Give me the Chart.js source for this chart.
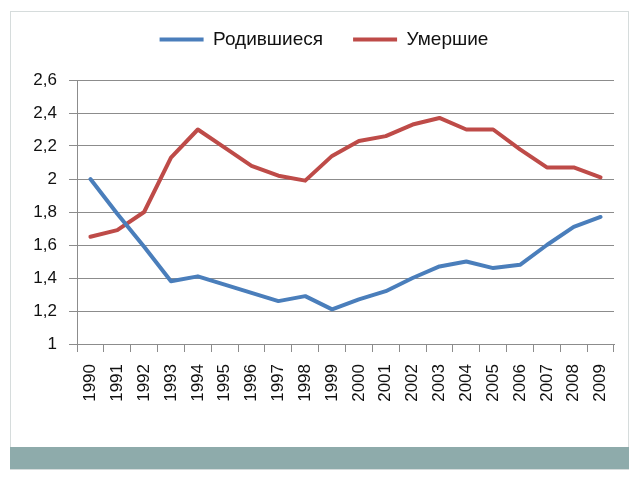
<!DOCTYPE html>
<html>
<head>
<meta charset="utf-8">
<script src="https://cdn.jsdelivr.net/npm/chart.js@4.4.1/dist/chart.umd.min.js"></script>
<style>
    html, body { margin: 0; padding: 0; background: #fff; }
    .Page { position: relative; width: 640px; height: 480px; overflow: hidden; }
    .Frame {
        position: absolute; left: 10px; top: 11px; width: 617px; height: 436px;
        border: 1px solid #d6dcdc; border-bottom: none;
    }
    .Band {
        position: absolute; left: 10px; top: 447px; width: 619px; height: 22px;
        background: #8eabab; border-bottom: 1px solid #d6dcdc;
    }
    .Chart--box { position: absolute; left: 0; top: 0; width: 640px; height: 480px; }
</style>
</head>
<body>
<div class="Page">
    <div class="Frame"></div>
    <div class="Band"></div>
    <div class="Chart--box"><canvas id="ChartRates"></canvas></div>
</div>
<script>
// Данные
var anos = ['1990', '1991', '1992', '1993', '1994', '1995', '1996', '1997', '1998', '1999',
            '2000', '2001', '2002', '2003', '2004', '2005', '2006', '2007', '2008', '2009'];
var rodivshiesya = [2.00, 1.79, 1.59, 1.38, 1.41, 1.36, 1.31, 1.26, 1.29, 1.21,
                    1.27, 1.32, 1.40, 1.47, 1.50, 1.46, 1.48, 1.60, 1.71, 1.77];
var umershie = [1.65, 1.69, 1.80, 2.13, 2.30, 2.19, 2.08, 2.02, 1.99, 2.14,
                2.23, 2.26, 2.33, 2.37, 2.30, 2.30, 2.18, 2.07, 2.07, 2.01];
var seriesNames = ['Родившиеся', 'Умершие'];

var fonte = 'Liberation Sans';

// more space under the legend, and push it a little to the right
const legendGap = {
    id: 'legendGap',
    beforeInit(chart) {
        const fit = chart.legend.fit;
        chart.legend.fit = function() {
            fit.bind(chart.legend)();
            this.height += 21;
        };
    },
    afterLayout(chart) {
        chart.legend.left += 17;
        chart.legend.right += 17;
    }
};

const data = {
labels: anos,
datasets: [{
    label: seriesNames[0],
    data: rodivshiesya,
    borderColor: '#4a7ebb',
    backgroundColor: '#4a7ebb',
    borderWidth: 4,
    pointRadius: 0,
    tension: 0,
    borderJoinStyle: 'round',
    borderCapStyle: 'round'
},
{
    label: seriesNames[1],
    data: umershie,
    borderColor: '#be4b48',
    backgroundColor: '#be4b48',
    borderWidth: 4,
    pointRadius: 0,
    tension: 0,
    borderJoinStyle: 'round',
    borderCapStyle: 'round'
}]};

const config = {
type: 'line',
data: data,
plugins: [legendGap],
options: {
    animation: false,
    maintainAspectRatio: false,
    responsive: true,
    layout: { padding: { left: 0, right: 26, top: 0, bottom: 0 } },
    plugins: {
        tooltip: { enabled: false },
        legend: {
            position: 'top',
            labels: {
                usePointStyle: true,
                pointStyle: 'line',
                pointStyleWidth: 44,
                padding: 30,
                color: '#111',
                font: { family: fonte, size: 19 }
            }
        }
    },
    scales: {
        x: {
            offset: true,
            grid: {
                offset: true,
                drawOnChartArea: false,
                drawTicks: true,
                tickLength: 8,
                color: '#8c8c8c'
            },
            border: { color: '#8c8c8c', width: 1 },
            ticks: {
                minRotation: 90,
                maxRotation: 90,
                padding: 12,
                color: '#111',
                font: { family: fonte, size: 17 }
            },
            afterFit: (scale) => { scale.height = 136; }
        },
        y: {
            min: 1,
            max: 2.6,
            grid: {
                color: '#8c8c8c',
                tickLength: 8
            },
            border: { color: '#8c8c8c', width: 1 },
            ticks: {
                stepSize: 0.2,
                padding: 12,
                color: '#111',
                font: { family: fonte, size: 17 },
                callback: (v) => String(Number(v.toFixed(1))).replace('.', ',')
            },
            afterFit: (scale) => { scale.width = 77; }
        }
    }
}
};

const myChart = new Chart(
document.getElementById('ChartRates'),
config
);
</script>
</body>
</html>
